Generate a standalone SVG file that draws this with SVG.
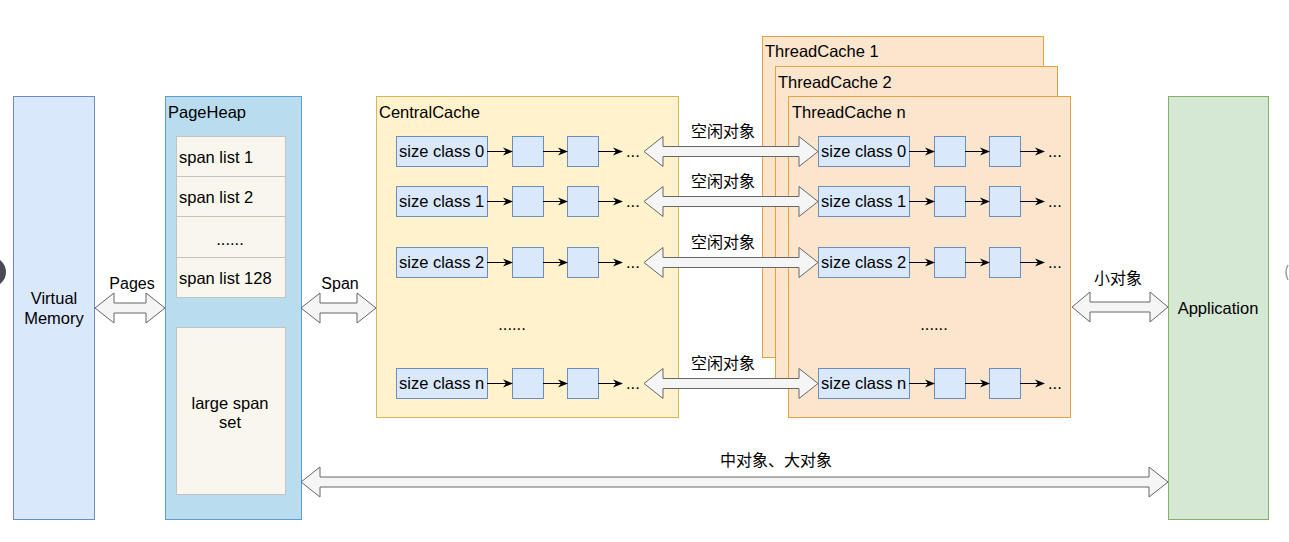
<svg xmlns="http://www.w3.org/2000/svg" width="1289" height="542" viewBox="0 0 1289 542">
<defs>
<marker id="ah" viewBox="0 0 10 10" refX="9" refY="5" markerWidth="10" markerHeight="10" markerUnits="userSpaceOnUse" orient="auto">
<path d="M0,1 L10,5 L0,9 L3,5 Z" fill="#000"/>
</marker>
</defs>
<style>
text{font-family:"Liberation Sans","Noto Sans CJK SC",Arial,sans-serif;font-size:16.5px;fill:#000}
.cjk{font-family:"Noto Sans CJK SC","Liberation Sans",sans-serif;font-size:16px}
.lbl{font-size:16px}
.blue{fill:#dae8fc;stroke:#6c8ebf;stroke-width:1}
.span{fill:#f9f7ed;stroke:#c3c3c3;stroke-width:1}
.tc{fill:#fce5cd;stroke:#e0a33f;stroke-width:1}
.fat{fill:#f5f5f5;stroke:#666;stroke-width:1}
.ln{stroke:#000;stroke-width:1;fill:none;marker-end:url(#ah)}
.mid{text-anchor:middle}
</style>
<rect x="0" y="0" width="1289" height="542" fill="#fff"/>
<circle cx="-9" cy="272" r="15" fill="#4a4a55"/>
<path d="M1288,265 Q1284,272 1288,280" fill="none" stroke="#9a9a9a" stroke-width="1.5"/>

<g id="virtual-memory">
<rect class="blue" x="13.5" y="96.5" width="81" height="423"/>
<text class="mid" x="54" y="304">Virtual</text>
<text class="mid" x="54" y="324">Memory</text>
</g>

<g id="pageheap">
<rect x="165.5" y="96.5" width="136" height="423" fill="#badcef" stroke="#5d9ccc"/>
<text x="168" y="118">PageHeap</text>
<rect class="span" x="176.5" y="136.5" width="109" height="40"/>
<text x="179" y="163">span list 1</text>
<rect class="span" x="176.5" y="176.5" width="109" height="40"/>
<text x="179" y="203">span list 2</text>
<rect class="span" x="176.5" y="216.5" width="109" height="41"/>
<text class="mid" x="230" y="245">......</text>
<rect class="span" x="176.5" y="257.5" width="109" height="40"/>
<text x="179" y="284">span list 128</text>
<rect class="span" x="176.5" y="327.5" width="109" height="167"/>
<text class="mid" x="230" y="409">large span</text>
<text class="mid" x="230" y="428">set</text>
</g>

<g id="centralcache">
<rect x="376.5" y="96.5" width="302" height="321" fill="#fff2cc" stroke="#d6b656"/>
<text x="379" y="118">CentralCache</text>
<rect class="blue" x="396.5" y="136.5" width="91" height="30"/><text x="399" y="157">size class 0</text>
<rect class="blue" x="512.5" y="136.5" width="31" height="30"/><rect class="blue" x="567.5" y="136.5" width="31" height="30"/>
<text x="626" y="157">...</text>
<rect class="blue" x="396.5" y="186.5" width="91" height="30"/><text x="399" y="207">size class 1</text>
<rect class="blue" x="512.5" y="186.5" width="31" height="30"/><rect class="blue" x="567.5" y="186.5" width="31" height="30"/>
<text x="626" y="207">...</text>
<rect class="blue" x="396.5" y="247.5" width="91" height="30"/><text x="399" y="268">size class 2</text>
<rect class="blue" x="512.5" y="247.5" width="31" height="30"/><rect class="blue" x="567.5" y="247.5" width="31" height="30"/>
<text x="626" y="268">...</text>
<text class="mid" x="512" y="330">......</text>
<rect class="blue" x="396.5" y="368.5" width="91" height="30"/><text x="399" y="389">size class n</text>
<rect class="blue" x="512.5" y="368.5" width="31" height="30"/><rect class="blue" x="567.5" y="368.5" width="31" height="30"/>
<text x="626" y="389">...</text>
</g>

<g id="threadcache-1">
<rect class="tc" x="762.5" y="36.5" width="281" height="321"/>
<text x="765" y="57">ThreadCache 1</text>
</g>
<g id="threadcache-2">
<rect class="tc" x="775.5" y="66.5" width="282" height="321"/>
<text x="778" y="88">ThreadCache 2</text>
</g>
<g id="threadcache-n">
<rect class="tc" x="788.5" y="96.5" width="282" height="321"/>
<text x="792" y="118">ThreadCache n</text>
<rect class="blue" x="818.5" y="136.5" width="91" height="30"/><text x="821" y="157">size class 0</text>
<rect class="blue" x="934.5" y="136.5" width="31" height="30"/><rect class="blue" x="989.5" y="136.5" width="31" height="30"/>
<text x="1048" y="157">...</text>
<rect class="blue" x="818.5" y="186.5" width="91" height="30"/><text x="821" y="207">size class 1</text>
<rect class="blue" x="934.5" y="186.5" width="31" height="30"/><rect class="blue" x="989.5" y="186.5" width="31" height="30"/>
<text x="1048" y="207">...</text>
<rect class="blue" x="818.5" y="247.5" width="91" height="30"/><text x="821" y="268">size class 2</text>
<rect class="blue" x="934.5" y="247.5" width="31" height="30"/><rect class="blue" x="989.5" y="247.5" width="31" height="30"/>
<text x="1048" y="268">...</text>
<text class="mid" x="934" y="330">......</text>
<rect class="blue" x="818.5" y="368.5" width="91" height="30"/><text x="821" y="389">size class n</text>
<rect class="blue" x="934.5" y="368.5" width="31" height="30"/><rect class="blue" x="989.5" y="368.5" width="31" height="30"/>
<text x="1048" y="389">...</text>
</g>

<g id="application">
<rect x="1168.5" y="96.5" width="100" height="423" fill="#d5e8d4" stroke="#82b366"/>
<text class="mid" x="1218" y="314">Application</text>
</g>

<g id="connectors">
<path class="ln" d="M487,151.5 H512"/><path class="ln" d="M543,151.5 H567"/><path class="ln" d="M598,151.5 H622"/>
<path class="ln" d="M487,201.5 H512"/><path class="ln" d="M543,201.5 H567"/><path class="ln" d="M598,201.5 H622"/>
<path class="ln" d="M487,262.5 H512"/><path class="ln" d="M543,262.5 H567"/><path class="ln" d="M598,262.5 H622"/>
<path class="ln" d="M487,383.5 H512"/><path class="ln" d="M543,383.5 H567"/><path class="ln" d="M598,383.5 H622"/>
<path class="ln" d="M909,151.5 H934"/><path class="ln" d="M965,151.5 H989"/><path class="ln" d="M1020,151.5 H1044"/>
<path class="ln" d="M909,201.5 H934"/><path class="ln" d="M965,201.5 H989"/><path class="ln" d="M1020,201.5 H1044"/>
<path class="ln" d="M909,262.5 H934"/><path class="ln" d="M965,262.5 H989"/><path class="ln" d="M1020,262.5 H1044"/>
<path class="ln" d="M909,383.5 H934"/><path class="ln" d="M965,383.5 H989"/><path class="ln" d="M1020,383.5 H1044"/>

<polygon class="fat" points="95,308 114,293 114,303 146,303 146,293 165,308 146,323 146,313 114,313 114,323"/>
<text class="mid lbl" x="132" y="289">Pages</text>
<polygon class="fat" points="301,308 320,293 320,303 357,303 357,293 376,308 357,323 357,313 320,313 320,323"/>
<text class="mid lbl" x="340" y="289">Span</text>

<polygon class="fat" points="644,151.5 663,136.5 663,146.5 799,146.5 799,136.5 818,151.5 799,166.5 799,156.5 663,156.5 663,166.5"/>
<text class="cjk mid" x="723" y="137">空闲对象</text>
<polygon class="fat" points="644,201.5 663,186.5 663,196.5 799,196.5 799,186.5 818,201.5 799,216.5 799,206.5 663,206.5 663,216.5"/>
<text class="cjk mid" x="723" y="187">空闲对象</text>
<polygon class="fat" points="644,262.5 663,247.5 663,257.5 799,257.5 799,247.5 818,262.5 799,277.5 799,267.5 663,267.5 663,277.5"/>
<text class="cjk mid" x="723" y="248">空闲对象</text>
<polygon class="fat" points="644,383.5 663,368.5 663,378.5 799,378.5 799,368.5 818,383.5 799,398.5 799,388.5 663,388.5 663,398.5"/>
<text class="cjk mid" x="723" y="369">空闲对象</text>

<polygon class="fat" points="1072,307 1090,292 1090,302 1150,302 1150,292 1168,307 1150,322 1150,312 1090,312 1090,322"/>
<text class="cjk mid" x="1118" y="284">小对象</text>

<polygon class="fat" points="301,482 320,467 320,477 1149,477 1149,467 1168,482 1149,497 1149,487 320,487 320,497"/>
<text class="cjk mid" x="776" y="466">中对象、大对象</text>
</g>
</svg>
